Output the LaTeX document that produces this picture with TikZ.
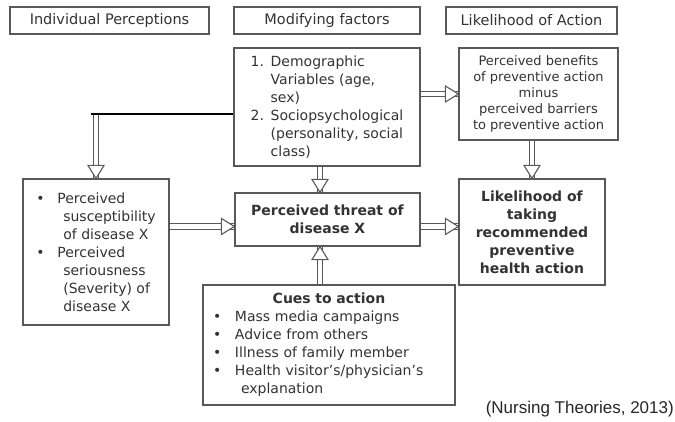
\documentclass[tikz,border=0pt]{standalone}
\usepackage{fontspec}
\setmainfont{DejaVu Sans}
\newfontfamily\citefont{Liberation Sans}
\usetikzlibrary{calc,decorations.markings}

\begin{document}
\begin{tikzpicture}[x=1pt, y=-1pt,
		pbox/.style={draw=black!65, line width=1.2pt, fill=white, inner sep=0pt, text=black!80, align=center, font=\fontsize{14}{18}\selectfont},
		hdr/.style={pbox, minimum height=27, font=\fontsize{14.5}{18}\selectfont},
		hollow/.style={draw=black!65, line width=1.1pt, double=white, double distance=4.5pt, shorten <=0.6pt, postaction=decorate,
			decoration={markings, mark=at position 1 with {\draw[draw=black!65, line width=1.1pt, fill=white, line join=miter] (0,0) -- (-13,8) -- (-13,-8) -- cycle;}}}]
	\fill[white] (0,0) rectangle (675,422);
	\useasboundingbox (0,0) rectangle (675,422);
	
	% 1. headers
	\node[hdr, minimum width=199] (ipHdr) at (109.5,20.5) {Individual Perceptions};
	\node[hdr, minimum width=186] (mfHdr) at (327,20.5) {Modifying factors};
	\node[hdr, minimum width=171] (laHdr) at (531.5,20.5) {Likelihood of Action};
	
	% 2. boxes
	\node[pbox, minimum width=186, minimum height=118, align=left] (dem) at (327,107)
		{\makebox[20pt][l]{1.}Demographic\\ \hspace*{20pt}Variables (age,\\ \hspace*{20pt}sex)\\
		 \makebox[20pt][l]{2.}Sociopsychological\\ \hspace*{20pt}(personality, social\\ \hspace*{20pt}class)};
	\node[pbox, minimum width=159, minimum height=92, font=\fontsize{13}{16}\selectfont] (ben) at (538.5,94)
		{Perceived benefits\\ of preventive action\\ minus\\ perceived barriers\\ to preventive action};
	\node[pbox, minimum width=146, minimum height=146, align=left] (perc) at (96,252)
		{\makebox[21pt][l]{\textbullet}Perceived\\ \hspace*{27pt}susceptibility\\ \hspace*{27pt}of disease X\\
		 \makebox[21pt][l]{\textbullet}Perceived\\ \hspace*{27pt}seriousness\\ \hspace*{27pt}(Severity) of\\ \hspace*{27pt}disease X};
	\node[pbox, minimum width=185, minimum height=53, font=\bfseries\fontsize{14}{18}\selectfont] (threat) at (327.5,219.5)
		{Perceived threat of\\ disease X};
	\node[pbox, minimum width=146, minimum height=106, font=\bfseries\fontsize{14}{18}\selectfont] (like) at (532,232)
		{Likelihood of\\ taking\\ recommended\\ preventive\\ health action};
	\node[pbox, text width=232, inner xsep=10pt, minimum height=120, align=left] (cues) at (329,345)
		{\makebox[232pt]{\bfseries Cues to action}\\ \makebox[22pt][l]{\textbullet}Mass media campaigns\\
		 \makebox[22pt][l]{\textbullet}Advice from others\\ \makebox[22pt][l]{\textbullet}Illness of family member\\
		 \makebox[22pt][l]{\textbullet}Health visitor's/physician's\\ \hspace*{28pt}explanation};
	
	% 3. arrows
	\coordinate (tIn) at ($(threat.north)+(-7.5,0)$);
	\coordinate (tOut) at ($(threat.south)+(-7.5,0)$);
	\coordinate (tW) at ($(threat.west)+(0,7)$);
	\coordinate (tE) at ($(threat.east)+(0,7)$);
	\coordinate (split) at (91,114);
	\draw[hollow] (tIn |- dem.south) -- (tIn);
	\draw[hollow] (tOut |- cues.north) -- (tOut);
	\draw[hollow] (tW -| perc.east) -- (tW);
	\draw[hollow] (tE) -- (tE -| like.west);
	\draw[hollow] (ben.west -| dem.east) -- (ben.west);
	\draw[hollow] (like.north |- ben.south) -- (like.north);
	\draw[hollow] (split -| perc.north) -- (perc.north);
	\draw[line width=1.6pt] (split) -- (split -| dem.west);
	
	% 4. source
	\node[font=\citefont\fontsize{17}{20}\selectfont, text=black!85, anchor=east, inner sep=0pt] (cite) at (674,409) {(Nursing Theories, 2013)};
\end{tikzpicture}
\end{document}
